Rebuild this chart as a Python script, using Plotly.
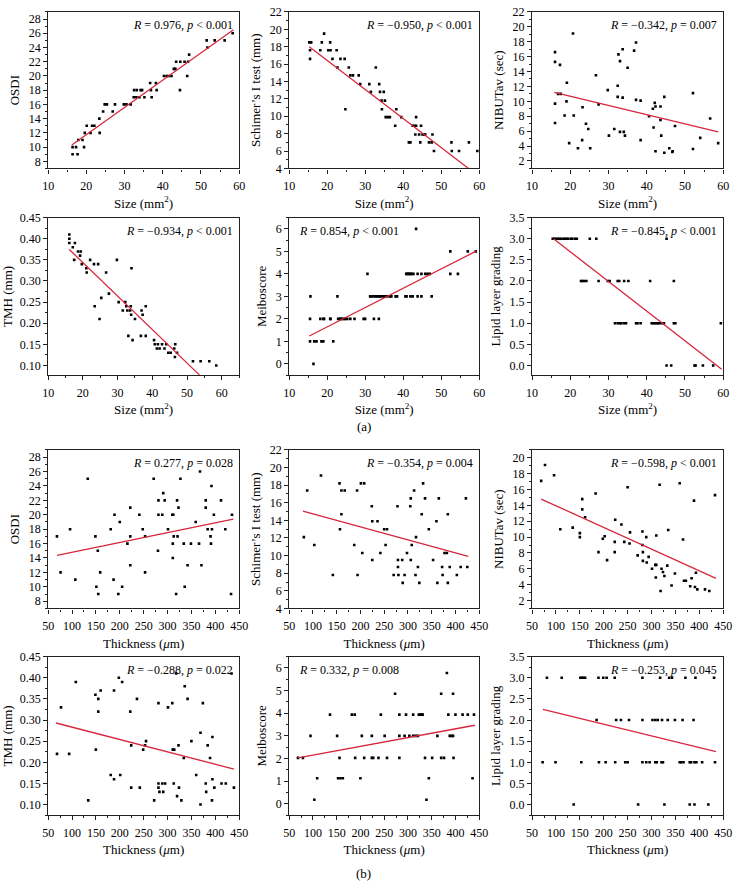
import plotly.graph_objects as go

# ---------------- data ----------------
# (a) row 1: OSDI vs Size
size_osdi_x = [16.4,16.4,17.3,17.7,17.9,19.0,19.4,19.6,20.1,21.1,21.5,22.1,23.4,23.5,24.4,24.8,25.4,26.9,27.5,29.8,
               30.5,31.6,32.4,32.5,33.1,33.2,33.9,34.2,34.6,35.2,36.7,36.9,37.1,38.2,38.4,40.3,41.0,41.6,42.3,42.9,
               43.3,43.5,44.5,44.6,45.7,46.4,46.6,46.9,51.5,51.7,53.6,56.2,58.3]
size_osdi_y = [10,9,10,9,11,11,10,12,13,12,13,13,14,12,15,16,16,15,16,16,
               16,16,17,18,17,18,17,18,18,17,19,18,17,19,18,20,20,20,20,21,
               21,22,18,22,22,20,22,23,25,24,25,25,26]
size_osdi_fit_x = [16.2, 58.5]
size_osdi_fit_y = [10.3, 26.5]

size_schirmer_x = [15.3,15.8,18.6,20.8,15.5,18.2,20.3,20.9,22.5,19.2,15.5,21.4,23.5,24.6,22.7,25.7,32.8,26.1,26.8,28.3,
                   28.7,31.1,33.7,31.5,33.9,34.9,34.3,35.2,24.8,34.4,38.2,35.4,36.0,36.5,39.5,37.9,42.5,42.9,43.4,43.4,
                   44.7,43.2,44.2,45.1,45.5,45.8,47.7,41.5,41.9,44.5,46.8,47.5,52.7,57.3,48.1,52.8,54.7,59.5]
size_schirmer_y = [18.5,18.5,18.5,18.5,17.6,17.6,17.6,17.6,17.6,19.5,16.6,16.6,16.6,16.6,15.6,15.6,15.6,14.7,14.7,14.7,
                   13.7,13.7,13.7,12.8,12.8,12.8,11.8,11.8,10.8,10.8,10.8,9.9,9.9,9.9,9.9,8.9,8.9,8.9,8.9,9.9,
                   8.9,7.9,7.9,7.9,7.9,7.9,7.9,7.0,7.0,7.0,7.0,7.0,7.0,7.0,6.0,6.0,6.0,6.0]
size_schirmer_fit_x = [15.3, 57.2]
size_schirmer_fit_y = [18.0, 4.0]

size_nibut_x = [20.7,16.0,16.0,17.3,19.1,16.8,17.5,16.0,19.0,16.0,20.9,23.2,19.7,22.0,23.1,24.1,24.7,25.2,26.7,27.4,
                29.8,30.1,31.5,32.4,32.4,32.6,33.0,33.0,33.7,33.7,34.0,34.3,35.0,36.7,37.2,38.4,38.4,40.6,41.6,41.8,
                42.1,42.3,42.3,43.6,43.6,43.8,44.6,44.6,45.9,46.7,46.8,47.4,52.1,52.1,54.0,56.6,58.7,37.2,18.5]
size_nibut_y = [19.1,16.6,15.3,14.9,12.5,11.0,11.0,9.7,10.0,7.1,8.1,9.2,4.4,3.7,4.8,7.0,6.3,3.7,13.5,9.6,
                11.5,5.4,6.3,12.1,10.6,16.3,15.4,5.9,17.0,10.5,5.9,5.4,14.5,16.8,17.9,10.1,4.8,8.0,9.0,6.5,
                9.8,9.3,3.3,9.3,7.5,5.4,10.6,3.1,3.7,3.2,3.3,6.7,11.1,3.6,5.1,7.7,4.4,10.2,8.1]
size_nibut_fit_x = [15.8, 58.7]
size_nibut_fit_y = [11.2, 5.9]

# (a) row 2
size_tmh_x = [16.1,16.1,16.1,17.1,17.7,17.5,18.6,19.4,19.2,19.7,21.0,21.1,22.1,23.2,24.4,23.4,24.8,25.3,26.7,27.5,
              29.8,30.3,31.5,32.2,32.5,32.8,33.1,33.6,33.8,34.0,34.3,33.9,35.0,36.7,36.9,37.2,38.1,38.1,40.5,40.7,
              41.3,41.6,42.1,42.8,43.5,44.0,44.6,45.3,46.3,46.6,46.5,47.1,51.7,53.9,56.4,58.4]
size_tmh_y = [0.41,0.40,0.39,0.38,0.39,0.35,0.37,0.37,0.36,0.34,0.33,0.32,0.35,0.34,0.34,0.24,0.21,0.26,0.32,0.27,
              0.35,0.25,0.23,0.25,0.24,0.23,0.17,0.23,0.24,0.33,0.16,0.22,0.21,0.17,0.23,0.22,0.24,0.17,0.16,0.15,
              0.14,0.15,0.14,0.15,0.14,0.15,0.13,0.13,0.14,0.15,0.12,0.13,0.11,0.11,0.11,0.10]
size_tmh_fit_x = [16.1, 53.6]
size_tmh_fit_y = [0.3745, 0.077]

size_meibo_x = [15.6,22.7,31.3,31.7,32.3,32.8,33.2,33.7,34.1,34.7,35.2,35.8,36.5,36.9,38.0,38.4,40.6,40.9,41.9,42.5,43.8,44.8,47.5,
                15.5,18.2,19.0,19.2,20.8,20.9,22.9,23.4,23.5,24.0,24.4,24.8,25.3,26.1,27.2,29.6,30.0,32.3,33.6,
                15.5,16.6,17.2,18.5,19.0,21.6,
                16.4,
                30.6,40.8,41.0,41.4,41.6,41.9,42.2,42.7,43.8,44.8,45.8,46.4,47.0,52.4,54.4,
                52.4,57.0,59.1,
                43.4]
size_meibo_y = [3,3,3,3,3,3,3,3,3,3,3,3,3,3,3,3,3,3,3,3,3,3,3,
                2,2,2,2,2,2,2,2,2,2,2,2,2,2,2,2,2,2,2,
                1,1,1,1,1,1,
                0,
                4,4,4,4,4,4,4,4,4,4,4,4,4,4,4,
                5,5,5,
                6]
size_meibo_fit_x = [15.3, 59.3]
size_meibo_fit_y = [1.24, 5.02]

size_lipid_x = [15.4,15.8,16.2,16.7,17.1,17.6,18.2,18.6,19.1,19.5,20.2,20.5,21.2,21.7,25.1,26.8,45.2,
                22.8,23.1,23.6,24.2,27.4,29.8,30.3,32.4,32.8,34.1,35.2,40.9,47.1,
                31.7,32.4,33.0,33.3,34.0,34.6,37.2,37.6,38.4,41.3,41.7,42.1,42.6,42.9,43.4,44.1,44.5,47.1,47.5,59.4,
                45.2,46.4,52.5,52.8,54.7,57.4]
size_lipid_y = [3,3,3,3,3,3,3,3,3,3,3,3,3,3,3,3,3,
                2,2,2,2,2,2,2,2,2,2,2,2,2,
                1,1,1,1,1,1,1,1,1,1,1,1,1,1,1,1,1,1,1,1,
                0,0,0,0,0,0]
size_lipid_fit_x = [15.6, 59.6]
size_lipid_fit_y = [3.0, -0.09]

# (b) row 3: vs Thickness
thk_osdi_x = [68.5,76,96,107,133,149,151,154,155,159,181,187,189,197,200,205,222,222,222,216,
              241,248,253,253,271,281,281,280,291,289,294,301,310,311,311,312,313,318,320,321,
              323,327,334,336,342,349,359,366,368,371,380,380,384,390,391,392,393,397,412,421,433,435]
thk_osdi_y = [17,12,18,11,25,17,10,15,9,12,18,11,20,9,19,10,21,17,13,16,
              20,18,17,12,25,22,20,15,23,20,22,18,20,16,14,20,17,9,22,17,
              21,25,16,10,13,16,19,16,26,13,21,22,18,17,16,24,18,20,22,18,9,20]
thk_osdi_fit_x = [68.5, 437.7]
thk_osdi_fit_y = [14.35, 19.4]

thk_schirmer_x = [81,88,103,117,142,156,157,160,160,167,187,193,194,201,204,208,224,225,225,236,
                  242,250,253,256,270,278,279,279,280,288,289,293,298,305,306,306,308,313,317,316,
                  321,324,329,332,336,344,353,362,360,365,372,373,377,382,384,384,388,403,411,422,425]
thk_schirmer_y = [12.1,17.4,11.2,19.1,7.8,18.2,13.0,14.7,17.4,17.4,11.2,17.4,7.8,18.2,10.3,18.2,15.6,13.9,9.5,13.9,
                  10.3,13.0,11.2,13.0,7.8,15.6,9.5,8.7,7.8,9.5,6.9,7.8,10.3,15.6,16.5,9.5,11.2,17.4,12.1,7.8,
                  8.7,6.9,14.7,18.2,16.5,13.0,9.5,6.9,13.9,16.5,8.7,7.8,10.3,10.3,14.7,6.9,8.7,7.8,8.7,16.5,8.7]
thk_schirmer_fit_x = [79, 427]
thk_schirmer_fit_y = [15.05, 9.9]

thk_nibut_x = [69,77,96,109,135,150,150,155,155,161,183,189,198,202,207,223,224,223,237,243,
               250,254,255,271,281,281,282,282,289,290,294,301,308,309,310,310,317,319,321,324,
               327,333,335,342,349,359,366,368,372,381,384,389,391,393,396,412,421,433]
thk_nibut_y = [17.1,19.1,17.8,11.0,11.2,10.5,10.0,14.8,13.5,12.5,15.5,8.1,9.8,10.1,7.1,8.1,12.2,9.4,11.6,9.4,
               16.3,9.2,10.6,7.7,10.7,9.0,8.1,7.0,10.0,6.8,7.5,6.0,6.5,4.9,10.2,6.5,16.6,3.2,6.0,5.6,
               5.1,6.4,10.9,3.9,5.4,16.8,9.7,4.5,4.5,3.8,4.8,14.6,3.7,5.5,3.4,3.4,3.2,15.3]
thk_nibut_fit_x = [69, 435]
thk_nibut_fit_y = [14.8, 4.8]

# (b) row 4
thk_tmh_x = [68.6,77,94,108,134,149,150,155,155,160,181,188,188,198,201,205,222,224,224,236,
             242,249,253,255,272,281,281,281,283,289,291,295,301,310,311,313,314,318,320,323,
             324,329,334,336,342,350,360,369,369,374,380,381,384,389,393,394,394,398,413,422,434,439]
thk_tmh_y = [0.22,0.33,0.22,0.39,0.11,0.36,0.23,0.35,0.32,0.37,0.17,0.16,0.37,0.40,0.17,0.39,0.32,0.24,0.14,0.35,
             0.14,0.23,0.24,0.25,0.11,0.34,0.15,0.14,0.13,0.15,0.13,0.15,0.33,0.34,0.23,0.15,0.23,0.41,0.12,0.24,
             0.14,0.11,0.21,0.38,0.35,0.25,0.17,0.27,0.10,0.34,0.15,0.13,0.24,0.21,0.11,0.16,0.26,0.14,0.15,0.15,0.41,0.14]
thk_tmh_fit_x = [66.6, 439]
thk_tmh_fit_y = [0.293, 0.184]

thk_meibo_x = [68.6,79,95,103,109,136,151,153,156,158,163,182,188,189,200,203,208,224,224,227,
               238,243,251,256,273,282,282,282,293,296,303,311,311,316,321,323,326,329,331,336,
               339,344,351,362,370,370,376,382,385,388,392,395,395,396,400,415,426,436,439]
thk_meibo_y = [2.03,2.03,3.0,0.18,1.13,3.94,3.0,1.13,2.03,1.13,1.13,3.94,3.94,2.03,1.13,3.0,2.03,3.0,2.03,2.03,
               2.03,3.94,3.0,2.03,4.86,3.94,3.0,2.03,3.0,3.94,3.0,3.0,3.94,3.0,3.0,3.94,3.94,3.94,3.94,2.03,
               0.18,1.13,2.03,3.0,4.86,2.03,2.03,5.78,3.94,3.0,3.0,4.86,3.0,2.03,3.94,3.94,3.94,1.13,3.94]
thk_meibo_fit_x = [68.6, 441]
thk_meibo_fit_y = [2.03, 3.47]

thk_lipid_x = [81,112,151,154,157,161,189,199,206,223,281,318,337,343,371,392,431,
               185,226,236,253,281,302,308,313,322,334,349,365,388,
               72,99,153,190,204,224,245,250,281,289,296,308,311,321,324,359,362,367,380,383,390,394,406,433,
               137,272,327,380,390,419]
thk_lipid_y = [3,3,3,3,3,3,3,3,3,3,3,3,3,3,3,3,3,
               2,2,2,2,2,2,2,2,2,2,2,2,2,
               1,1,1,1,1,1,1,1,1,1,1,1,1,1,1,1,1,1,1,1,1,1,1,1,
               0,0,0,0,0,0]
thk_lipid_fit_x = [72.6, 435]
thk_lipid_fit_y = [2.25, 1.25]

stats_text = ["<i>R</i> = 0.976, <i>p</i> &lt; 0.001", "<i>R</i> = −0.950, <i>p</i> &lt; 0.001",
              "<i>R</i> = −0.342, <i>p</i> = 0.007", "<i>R</i> = −0.934, <i>p</i> &lt; 0.001",
              "<i>R</i> = 0.854, <i>p</i> &lt; 0.001", "<i>R</i> = −0.845, <i>p</i> &lt; 0.001",
              "<i>R</i> = 0.277, <i>p</i> = 0.028", "<i>R</i> = −0.354, <i>p</i> = 0.004",
              "<i>R</i> = −0.598, <i>p</i> &lt; 0.001", "<i>R</i> = −0.288, <i>p</i> = 0.022",
              "<i>R</i> = 0.332, <i>p</i> = 0.008", "<i>R</i> = −0.253, <i>p</i> = 0.045"]
y_titles = ["OSDI", "Schimer’s I test (mm)", "NIBUTav (sec)", "TMH (mm)", "Meiboscore", "Lipid layer grading"]
x_title_size = "Size (mm<sup>2</sup>)"
x_title_thk = "Thickness (<i>μ</i>m)"

# ---------------- layout ----------------
W, H = 739, 893
FONT = "Liberation Serif"
col_px = [(43, 238), (289, 483), (537, 732)]
row_px = [(5, 164), (214, 374), (450, 611), (660, 821)]

panels = [
    (size_osdi_x, size_osdi_y, size_osdi_fit_x, size_osdi_fit_y, [10, 60], 10, 5, [7, 29], 2, 1),
    (size_schirmer_x, size_schirmer_y, size_schirmer_fit_x, size_schirmer_fit_y, [10, 60], 10, 5, [4, 22], 2, 1),
    (size_nibut_x, size_nibut_y, size_nibut_fit_x, size_nibut_fit_y, [10, 60], 10, 5, [1, 22], 2, 1),
    (size_tmh_x, size_tmh_y, size_tmh_fit_x, size_tmh_fit_y, [10, 65], 10, 5, [0.077, 0.45], 0.05, 0.025),
    (size_meibo_x, size_meibo_y, size_meibo_fit_x, size_meibo_fit_y, [10, 60], 10, 5, [-0.5, 6.5], 1, 0.5),
    (size_lipid_x, size_lipid_y, size_lipid_fit_x, size_lipid_fit_y, [10, 60], 10, 5, [-0.23, 3.5], 0.5, 0.25),
    (thk_osdi_x, thk_osdi_y, thk_osdi_fit_x, thk_osdi_fit_y, [50, 450], 50, 25, [7, 29], 2, 1),
    (thk_schirmer_x, thk_schirmer_y, thk_schirmer_fit_x, thk_schirmer_fit_y, [50, 450], 50, 25, [4, 22], 2, 1),
    (thk_nibut_x, thk_nibut_y, thk_nibut_fit_x, thk_nibut_fit_y, [50, 450], 50, 25, [1, 21], 2, 1),
    (thk_tmh_x, thk_tmh_y, thk_tmh_fit_x, thk_tmh_fit_y, [50, 450], 50, 25, [0.075, 0.45], 0.05, 0.025),
    (thk_meibo_x, thk_meibo_y, thk_meibo_fit_x, thk_meibo_fit_y, [50, 450], 50, 25, [-0.5, 6.5], 1, 0.5),
    (thk_lipid_x, thk_lipid_y, thk_lipid_fit_x, thk_lipid_fit_y, [50, 450], 50, 25, [-0.25, 3.5], 0.5, 0.25),
]

fig = go.Figure()
layout = dict(width=W, height=H, margin=dict(l=0, r=0, t=0, b=0),
              paper_bgcolor="white", plot_bgcolor="white", showlegend=False,
              font=dict(family=FONT, size=11, color="black"))
annotations = []

for i, (px, py, fx, fy, xr, xd, xm, yr, yd, ym) in enumerate(panels):
    r, c = divmod(i, 3)
    n = i + 1
    xa = "x" if n == 1 else f"x{n}"
    ya = "y" if n == 1 else f"y{n}"
    xkey = "xaxis" if n == 1 else f"xaxis{n}"
    ykey = "yaxis" if n == 1 else f"yaxis{n}"
    x0, x1 = col_px[c]
    y0, y1 = row_px[r]
    fig.add_trace(go.Scatter(x=px, y=py, mode="markers", xaxis=xa, yaxis=ya,
                             marker=dict(symbol="square", size=2.6, color="black", line=dict(width=0)),
                             cliponaxis=True))
    fig.add_trace(go.Scatter(x=fx, y=fy, mode="lines", xaxis=xa, yaxis=ya,
                             line=dict(color="#d7263d", width=1.3)))
    axis_common = dict(showline=True, linecolor="#222", linewidth=1.2, mirror=True,
                       ticks="outside", ticklen=4, tickwidth=1, tickcolor="#222",
                       showgrid=False, zeroline=False,
                       tickfont=dict(family=FONT, size=12, color="black"))
    yfmt = ".2f" if yd == 0.05 else (".1f" if yd == 0.5 else "d")
    layout[xkey] = dict(axis_common, domain=[x0 / W, x1 / W], range=xr, dtick=xd, tick0=0,
                        anchor=ya, tickformat="d", ticklabelstandoff=2,
                        minor=dict(dtick=xm, ticks="outside", ticklen=2, tickcolor="#222"),
                        title=dict(text=x_title_size if i < 6 else x_title_thk,
                                   font=dict(family=FONT, size=13, color="black"), standoff=6))
    layout[ykey] = dict(axis_common, domain=[1 - y1 / H, 1 - y0 / H], range=yr, dtick=yd, tick0=0,
                        anchor=xa, tickformat=yfmt,
                        minor=dict(dtick=ym, ticks="outside", ticklen=2, tickcolor="#222"),
                        title=dict(text=y_titles[i % 6], font=dict(family=FONT, size=13, color="black"),
                                   standoff=6))
    left_side = (i % 6) == 4
    annotations.append(dict(text=stats_text[i], xref=f"{xa} domain", yref=f"{ya} domain",
                            x=0.04 if left_side else 0.98, y=0.975,
                            xanchor="left" if left_side else "right", yanchor="top",
                            showarrow=False, font=dict(family=FONT, size=12, color="black")))

annotations.append(dict(text="(a)", xref="paper", yref="paper", x=365 / W, y=1 - 426 / H,
                        xanchor="center", yanchor="middle",
                        showarrow=False, font=dict(family=FONT, size=13, color="black")))
annotations.append(dict(text="(b)", xref="paper", yref="paper", x=365 / W, y=1 - 880 / H,
                        xanchor="center", yanchor="middle",
                        showarrow=False, font=dict(family=FONT, size=13, color="black")))
layout["annotations"] = annotations
fig.update_layout(**layout)
fig.write_html("out.html", config={"displayModeBar": False},
               post_script="document.body.style.margin='0';document.body.style.padding='0';")
